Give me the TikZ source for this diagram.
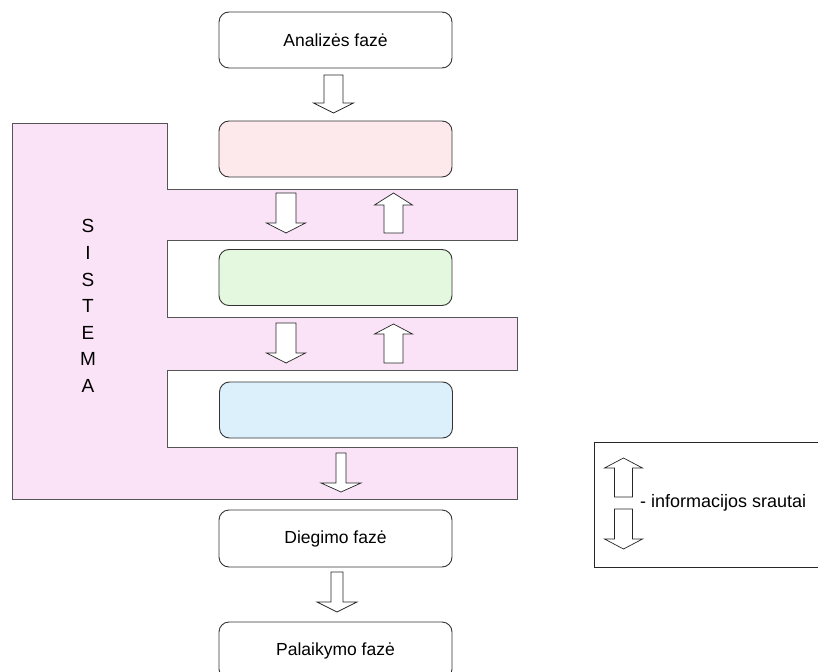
\documentclass[tikz,border=0pt]{standalone}
\usepackage{fontspec}
\setmainfont{Liberation Sans}
\definecolor{sysfill}{HTML}{FBE3F7}
\definecolor{pinkfill}{HTML}{FDE8EC}
\definecolor{greenfill}{HTML}{E4F8DF}
\definecolor{bluefill}{HTML}{DCF0FC}
\definecolor{edgegray}{HTML}{555555}
\tikzset{
  phase/.style={draw=black!80, line width=0.9pt, rounded corners=10pt, minimum width=233pt, minimum height=56pt, inner sep=0pt, font=\fontsize{17.5}{20}\selectfont},
  arrowsty/.style={draw=black!85, fill=white, line width=0.7pt, line join=miter},
  pics/downarr/.style n args={4}{code={
    \draw[arrowsty] (-#1,0) -- (#1,0) -- (#1,#3) -- (#2,#3) -- (0,#3+#4) -- (-#2,#3) -- (-#1,#3) -- cycle;
  }},
  pics/uparr/.style n args={4}{code={
    \draw[arrowsty] (-#1,0) -- (#1,0) -- (#1,-#3) -- (#2,-#3) -- (0,-#3-#4) -- (-#2,-#3) -- (-#1,-#3) -- cycle;
  }}
}
\begin{document}
\begin{tikzpicture}[x=1pt,y=-1pt]
\useasboundingbox (0,0) rectangle (818,671);
\begin{scope}
\clip (0,0) rectangle (818,671);
% SISTEMA L-shape
\draw[fill=sysfill, draw=edgegray, line width=0.8pt]
  (12,123) -- (167,123) -- (167,189) -- (517,189) -- (517,240) -- (167,240)
  -- (167,317) -- (517,317) -- (517,370) -- (167,370) -- (167,447) -- (517,447)
  -- (517,499) -- (12,499) -- cycle;
\node[align=center, font=\fontsize{19}{26.6}\selectfont] (sys) at (88,306) {S\\I\\S\\T\\E\\M\\A};

% phase boxes
\node[phase, fill=white] (anal) at (335.5,40) {Analizės fazė};
\node[phase, fill=pinkfill] (p1) at (335.5,149) {};
\node[phase, fill=greenfill] (p2) at (335.5,277.5) {};
\node[phase, fill=bluefill] (p3) at (336,410) {};
\node[phase, fill=white, minimum height=57pt] (dieg) at (335.5,538.5) {Diegimo fazė};
\node[phase, fill=white, minimum height=57pt] (pal) at (335.5,650.5) {Palaikymo fazė};

% block arrows
\pic at (333.5,75) {downarr={9.5}{20}{28}{10}};
\pic at (286,193) {downarr={10}{19.5}{30}{10}};
\pic at (393.5,233) {uparr={9.5}{19}{28}{12}};
\pic at (286,323) {downarr={10}{19.5}{30}{10}};
\pic at (393.5,363) {uparr={9.5}{19}{29}{10}};
\pic at (341,453) {downarr={5}{20}{30}{9}};
\pic at (337,572) {downarr={6}{20}{30}{10}};

% legend
\draw[line width=0.9pt, draw=black!85] (594,442) rectangle (830,567);
\pic at (623.5,497) {uparr={9}{19}{29}{10}};
\pic at (623.5,509) {downarr={9}{19}{30}{10}};
\node[anchor=west, inner sep=0pt, font=\fontsize{18}{20}\selectfont] (legtxt) at (640,503) {- informacijos srautai};
\end{scope}
\end{tikzpicture}
\end{document}
